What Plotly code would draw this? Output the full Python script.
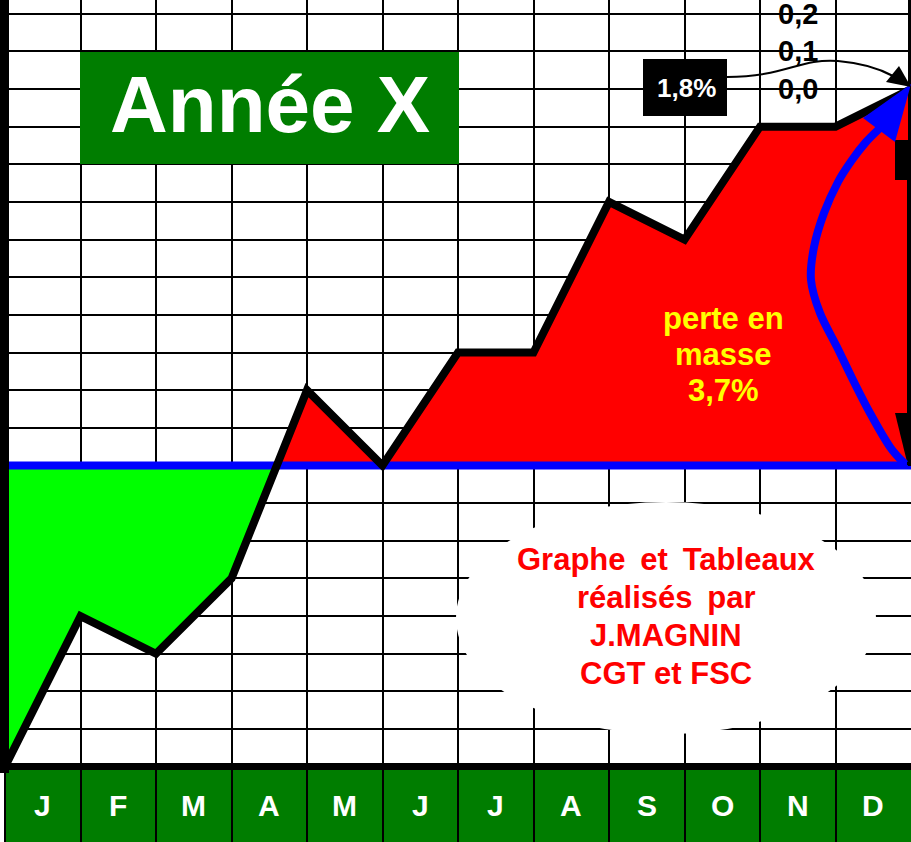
import plotly.graph_objects as go

# ---------------- data ----------------
months = ["J", "F", "M", "A", "M", "J", "J", "A", "S", "O", "N", "D"]
# cumulative value (%) at each month boundary: start of J ... end of D
values = [-1.8, -1.4, -1.5, -1.3, -0.8, -1.0, -0.7, -0.7, -0.3, -0.4, -0.1, -0.1, 0.0]
baseline = -1.0
grid_y = [round(-1.8 + 0.1 * i, 1) for i in range(21)]
right_ticks = [0.0, 0.1, 0.2]
right_tick_labels = ["0,0", "0,1", "0,2"]
title_text = "Année X"
callout_text = "1,8%"
loss_lines = ["perte en", "masse", "3,7%"]
credit_lines = ["Graphe \u2009et \u2009Tableaux", "réalisés \u2009par", "J.MAGNIN", "CGT et FSC"]

# ---------------- geometry helpers (pixel -> data) ----------------
W, H = 911, 842
X_PX0, X_PPU = 5.0, 75.5
Y_PX0, Y_PPU = 89.0, 376.5


def X(px):
    return (px - X_PX0) / X_PPU


def Y(py):
    return -(py - Y_PX0) / Y_PPU


FONT = "Liberation Sans, Arial, Helvetica, sans-serif"
GREEN = "#007D00"

xs = list(range(len(values)))

# split the series at the baseline crossings to build the two filled areas
seq = []
for i in range(len(values) - 1):
    x0, y0, x1, y1 = xs[i], values[i], xs[i + 1], values[i + 1]
    seq.append((x0, y0))
    if (y0 - baseline) * (y1 - baseline) < 0:
        t = (baseline - y0) / (y1 - y0)
        seq.append((x0 + t * (x1 - x0), baseline))
seq.append((xs[-1], values[-1]))


def poly(clip):
    px = [p[0] for p in seq] + [seq[-1][0], seq[0][0]]
    py = [clip(p[1], baseline) for p in seq] + [baseline, baseline]
    return px, py


rx, ry = poly(max)
gx, gy = poly(min)

fig = go.Figure()
fig.add_trace(go.Scatter(x=rx, y=ry, mode="lines", fill="toself", fillcolor="#FF0000",
                         line=dict(width=0, color="#FF0000"), hoverinfo="skip"))
fig.add_trace(go.Scatter(x=gx, y=gy, mode="lines", fill="toself", fillcolor="#00FF00",
                         line=dict(width=0, color="#00FF00"), hoverinfo="skip"))
fig.add_trace(go.Scatter(x=[X(0), xs[-1]], y=[baseline, baseline], mode="lines",
                         line=dict(color="#0000FF", width=8), hoverinfo="skip"))
fig.add_trace(go.Scatter(x=xs, y=values, mode="lines",
                         line=dict(color="black", width=8), hoverinfo="skip"))


def smooth_path(pts):
    d = f"M{X(pts[0][0])},{Y(pts[0][1])}"
    for i in range(len(pts) - 1):
        p0 = pts[i - 1] if i > 0 else pts[i]
        p1 = pts[i]
        p2 = pts[i + 1]
        p3 = pts[i + 2] if i + 2 < len(pts) else p2
        c1 = (p1[0] + (p2[0] - p0[0]) / 6, p1[1] + (p2[1] - p0[1]) / 6)
        c2 = (p2[0] - (p3[0] - p1[0]) / 6, p2[1] - (p3[1] - p1[1]) / 6)
        d += f" C{X(c1[0])},{Y(c1[1])} {X(c2[0])},{Y(c2[1])} {X(p2[0])},{Y(p2[1])}"
    return d


def poly_path(pts):
    return "M" + " L".join(f"{X(a)},{Y(b)}" for a, b in pts) + " Z"


def rect(x0, y0, x1, y1, color, layer="above"):
    return dict(type="rect", xref="x", yref="y", x0=X(x0), x1=X(x1), y0=Y(y1), y1=Y(y0),
                fillcolor=color, line=dict(width=0), layer=layer)


shapes = []
# month band
shapes.append(rect(4, 770, 911, 842, GREEN, layer="below"))
# white cloud behind the credits
shapes.append(dict(type="circle", xref="x", yref="y", x0=X(456), x1=X(876), y0=Y(734), y1=Y(502),
                   fillcolor="white", line=dict(width=0), layer="between"))
# title box
shapes.append(rect(80, 52, 459, 164, GREEN))
# callout box
shapes.append(rect(643, 59, 727, 116, "black"))
# left axis bar and bottom axis bar
shapes.append(rect(0, 0, 9, 773, "black"))
shapes.append(rect(0, 763, 911, 770, "black"))
# right-hand black marks
shapes.append(rect(908, 0, 911, 140, "black"))
shapes.append(rect(907, 140, 911, 465, "black"))
shapes.append(rect(895, 140, 911, 180, "black"))
shapes.append(dict(type="path", xref="x", yref="y", layer="above",
                   path=poly_path([(895, 413), (911, 413), (911, 466), (908, 466)]),
                   fillcolor="black", line=dict(width=0)))
# blue curved arrow
blue_pts = [(905, 464), (890, 447), (870, 413), (853, 380), (837, 347), (820, 313), (811, 280),
            (814, 247), (824, 213), (838, 182), (852, 160), (866, 142), (880, 128)]
shapes.append(dict(type="path", xref="x", yref="y", layer="above", path=smooth_path(blue_pts),
                   line=dict(color="#0000FF", width=8)))
shapes.append(dict(type="path", xref="x", yref="y", layer="above",
                   path=poly_path([(863, 118), (895, 142), (911, 84)]),
                   fillcolor="#0000FF", line=dict(width=0)))
# thin black callout arrow
thin = (f"M{X(727)},{Y(77)} C{X(785)},{Y(77)} {X(800)},{Y(58)} {X(838)},{Y(61)} "
        f"C{X(862)},{Y(63)} {X(880)},{Y(69)} {X(893)},{Y(76)}")
shapes.append(dict(type="path", xref="x", yref="y", layer="above", path=thin,
                   line=dict(color="black", width=2)))
shapes.append(dict(type="path", xref="x", yref="y", layer="above",
                   path=poly_path([(886, 82), (899, 66), (911, 87)]),
                   fillcolor="black", line=dict(width=0)))

annotations = []


def ann(text, x, y, size, color):
    annotations.append(dict(text=text, x=x, y=y, xref="x", yref="y", showarrow=False,
                            xanchor="center", yanchor="middle",
                            font=dict(family=FONT, size=size, color=color, weight="bold")))


ann(title_text, X(270), Y(104), 80, "white")
ann(callout_text, X(686), Y(88), 26, "white")
for v, lab in zip(right_ticks, right_tick_labels):
    ann(lab, X(798), v, 29, "black")
for i, m in enumerate(months):
    ann(m, i + 0.5, Y(805), 30, "white")
for k, line in enumerate(loss_lines):
    ann(line, X(723), Y(318 + 36 * k), 31, "#FFFF00")
for k, line in enumerate(credit_lines):
    ann(line, X(666), Y(559 + 38 * k), 31, "#FF0000")

fig.update_layout(
    width=W, height=H, autosize=False,
    margin=dict(l=0, r=0, t=0, b=0, pad=0),
    paper_bgcolor="white", plot_bgcolor="white",
    showlegend=False,
    shapes=shapes, annotations=annotations,
    xaxis=dict(range=[X(0), X(W)], tickvals=xs, showgrid=True, gridcolor="black", gridwidth=2,
               showticklabels=False, ticks="", zeroline=False, showline=False, fixedrange=True),
    yaxis=dict(range=[Y(H), Y(0)], tickvals=grid_y, showgrid=True, gridcolor="black", gridwidth=2,
               showticklabels=False, ticks="", zeroline=False, showline=False, fixedrange=True),
)

fig.write_html("out.html", config={"displayModeBar": False},
               post_script="document.body.style.margin='0';document.body.style.overflow='hidden';")
